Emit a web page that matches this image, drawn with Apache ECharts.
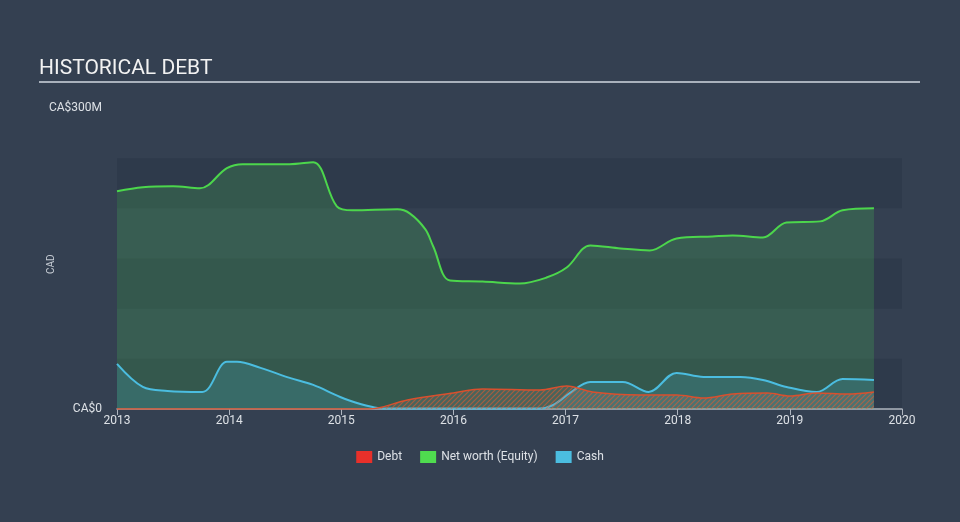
<!DOCTYPE html>
<html>
<head>
<meta charset="utf-8">
<script src="https://cdn.jsdelivr.net/npm/echarts@6/dist/echarts.min.js"></script>
<style>
html,body{margin:0;padding:0;background:#344051;}
#c{width:960px;height:522px;}
</style>
</head>
<body>
<div id="c"></div>
<script>
// ---- data (years as decimal, values in CA$ millions) ----
var equityYears = [2013.0, 2013.23, 2013.5, 2013.74, 2013.98, 2014.12, 2014.54, 2014.75, 2014.96, 2015.10, 2015.5, 2015.61, 2015.75, 2015.82, 2015.97, 2016.26, 2016.59, 2016.83, 2017.01, 2017.22, 2017.49, 2017.75, 2017.99, 2018.31, 2018.49, 2018.76, 2018.97, 2019.27, 2019.47, 2019.75];
var equityValues = [217, 221, 222, 220, 240, 244, 244, 246, 202, 198, 199, 195, 179, 162, 128, 127, 125, 131, 141, 163, 160, 158, 170, 172, 173, 171, 186, 187, 198, 200];

var cashYears = [2013.0, 2013.23, 2013.45, 2013.76, 2013.98, 2014.07, 2014.28, 2014.54, 2014.75, 2014.99, 2015.17, 2015.28, 2015.37, 2016.77, 2016.89, 2017.04, 2017.22, 2017.51, 2017.74, 2017.99, 2018.23, 2018.56, 2018.76, 2018.97, 2019.24, 2019.47, 2019.75];
var cashValues = [45, 22, 18, 17, 47, 47, 41, 31, 24, 12, 5, 2, 0.5, 0.5, 4, 16, 27, 27, 17, 36, 32, 32, 29, 22, 17, 30, 29];

var debtYears = [2013.0, 2014.0, 2015.0, 2015.25, 2015.59, 2016.0, 2016.26, 2016.77, 2017.01, 2017.24, 2017.66, 2017.99, 2018.23, 2018.49, 2018.8, 2019.0, 2019.24, 2019.51, 2019.75];
var debtValues = [0, 0, 0, 0, 9, 16, 20, 19, 23, 17, 14, 14, 11, 15, 16, 13, 16, 15, 17];

var xTicks = [2013, 2014, 2015, 2016, 2017, 2018, 2019, 2020];
var legendNames = ['Debt', 'Net worth (Equity)', 'Cash'];

function pairs(xs, ys){ return xs.map(function(x,i){ return [x, ys[i]]; }); }

// hatch pattern for debt area
var pat = document.createElement('canvas');
pat.width = 5; pat.height = 5;
var pc = pat.getContext('2d');
pc.fillStyle = 'rgba(150,150,150,0.30)';
pc.fillRect(0,0,5,5);
pc.strokeStyle = 'rgba(230,95,55,0.9)';
pc.lineWidth = 1.2;
pc.beginPath();
pc.moveTo(0,5); pc.lineTo(5,0);
pc.moveTo(-2.5,2.5); pc.lineTo(2.5,-2.5);
pc.moveTo(2.5,7.5); pc.lineTo(7.5,2.5);
pc.stroke();

var chart = echarts.init(document.getElementById('c'), null, {renderer:'canvas'});
var option = {
  backgroundColor: '#344051',
  animation: false,
  textStyle: { fontFamily: 'Roboto, sans-serif' },
  grid: { left: 117, right: 58, top: 108, bottom: 113 },
  graphic: [
    { type: 'text', left: 39, top: 58, style: { text: 'HISTORICAL DEBT', fill: '#f2f2f2', font: '21px Roboto, sans-serif' } },
    { type: 'rect', shape: { x: 39, y: 81, width: 881, height: 2 }, style: { fill: '#a9b1bc' } },
    { type: 'text', x: 46, y: 274, rotation: Math.PI/2, style: { text: 'CAD', fill: '#c5cbd3', font: '10px Roboto, sans-serif' } }
  ],
  legend: {
    bottom: 54,
    left: 'center',
    itemWidth: 16,
    itemHeight: 12,
    itemGap: 18,
    icon: 'rect',
    textStyle: { color: '#dde1e6', fontSize: 12 },
    data: [
      { name: legendNames[0], itemStyle: { color: '#e8302a' } },
      { name: legendNames[1], itemStyle: { color: '#4fdc4f' } },
      { name: legendNames[2], itemStyle: { color: '#4bbde0' } }
    ]
  },
  xAxis: {
    type: 'value',
    min: 2013, max: 2020, interval: 1,
    axisLine: { lineStyle: { color: '#aeb5bf', width: 1.5 } },
    axisTick: { length: 6, lineStyle: { color: '#aeb5bf' } },
    axisLabel: { color: '#dde1e6', fontSize: 12, margin: 6, formatter: function(v){ return xTicks.indexOf(v) >= 0 ? String(v) : ''; } },
    splitLine: { show: false }
  },
  yAxis: {
    type: 'value',
    min: 0, max: 300, interval: 50,
    axisLine: { show: false },
    axisTick: { show: false },
    axisLabel: { color: '#dde1e6', fontSize: 12, margin: 15,
      formatter: function(v){ return v === 0 ? 'CA$0' : (v === 300 ? 'CA$300M' : ''); } },
    splitLine: { show: false },
    splitArea: { show: true, areaStyle: { color: ['#2e3a4b', 'rgba(0,0,0,0)'] } }
  },
  series: [
    {
      name: legendNames[1], type: 'line', smooth: 0.35, symbol: 'none', z: 2,
      data: pairs(equityYears, equityValues),
      itemStyle: { color: '#4fdc4f' },
      lineStyle: { color: '#4cd64c', width: 2 },
      areaStyle: { color: 'rgba(78,212,88,0.28)' }
    },
    {
      name: legendNames[2], type: 'line', smooth: 0.35, symbol: 'none', z: 3,
      data: pairs(cashYears, cashValues),
      itemStyle: { color: '#4bbde0' },
      lineStyle: { color: '#4bbde0', width: 2 },
      areaStyle: { color: 'rgba(75,189,224,0.27)' }
    },
    {
      name: legendNames[0], type: 'line', smooth: 0.35, symbol: 'none', z: 4,
      data: pairs(debtYears, debtValues),
      itemStyle: { color: '#e8302a' },
      lineStyle: { color: '#d9502e', width: 1.5 },
      areaStyle: { color: { image: pat, repeat: 'repeat' } }
    }
  ]
};
chart.setOption(option);
</script>
</body>
</html>
